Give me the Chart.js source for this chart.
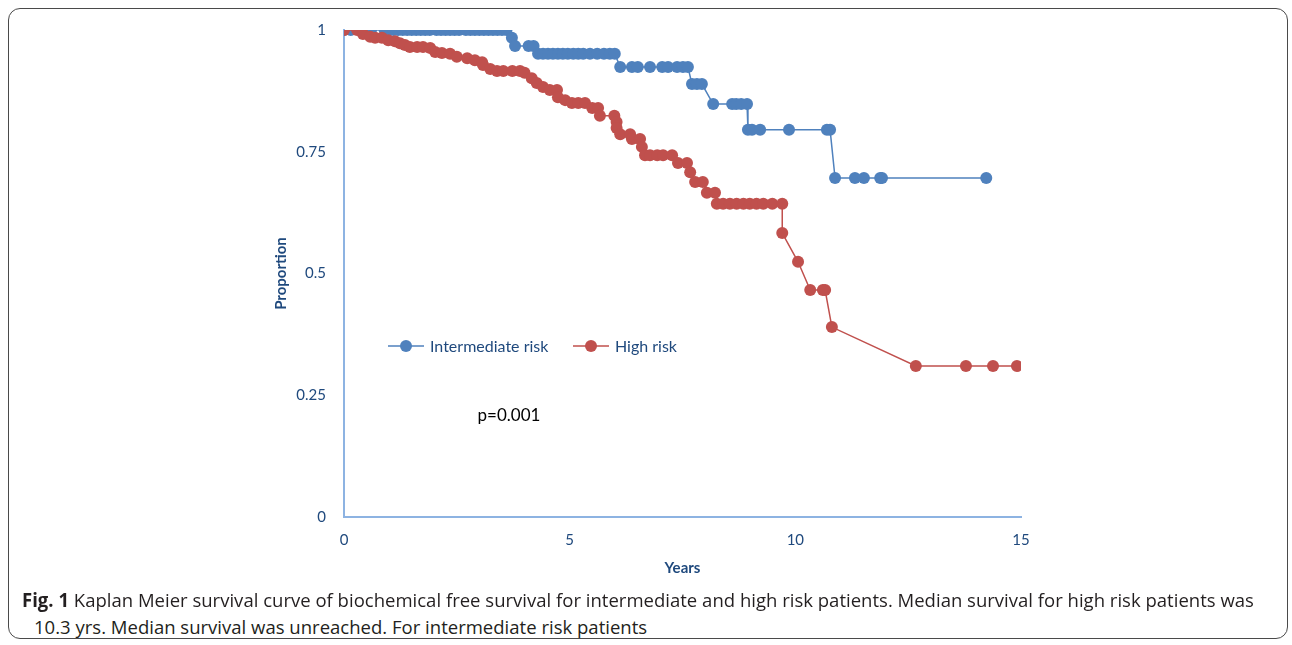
<!DOCTYPE html>
<html lang="en">
<head>
  <meta charset="UTF-8" />
  <title>Kaplan Meier survival curve</title>
  <script src="https://cdn.jsdelivr.net/npm/chart.js"></script>
  <style>
    html, body { margin: 0; padding: 0; background: #fff; }
    body { width: 1292px; height: 645px; position: relative; overflow: hidden; }
    #frame {
      position: absolute; left: 8px; top: 8px; width: 1280px; height: 631px;
      border: 1.5px solid #4a4a4a; border-radius: 12px; box-sizing: border-box;
    }
    #chartBox { position: absolute; left: 0; top: 0; width: 1292px; height: 600px; }
    .cap {
      position: absolute; left: 22px; white-space: nowrap;
      font-family: "Open Sans", sans-serif; font-size: 19px; line-height: 26px; color: #231f20;
      transform: scaleX(0.975); transform-origin: 0 0;
    }
  </style>
</head>
<body>
  <div id="frame"></div>
  <div id="chartBox"><canvas id="kmChart" width="1292" height="600"></canvas></div>
  <div class="cap" style="top:587px"><b>Fig. 1</b> Kaplan Meier survival curve of biochemical free survival for intermediate and high risk patients. Median survival for high risk patients was</div>
  <div class="cap" style="top:614px; left:34px">10.3 yrs. Median survival was unreached. For intermediate risk patients</div>

  <script>
    // values
    const seriesNames = ['Intermediate risk', 'High risk'];

    const intermediateYears = [
      0, 0.15, 0.5, 0.6, 0.9, 1.0, 1.1, 1.2, 1.3, 1.4, 1.5, 1.6, 1.7, 1.8, 1.9, 2.05, 2.15, 2.25, 2.35, 2.45,
      2.55, 2.7, 2.8, 2.9, 3.0, 3.1, 3.2, 3.3, 3.4, 3.5, 3.6,
      3.72, 3.79, 4.09, 4.2,
      4.3, 4.41, 4.52, 4.63, 4.74, 4.85, 4.96, 5.08, 5.19, 5.3, 5.45, 5.61, 5.76, 5.89, 6.0,
      6.12, 6.38, 6.51, 6.78, 7.05, 7.18, 7.38, 7.51, 7.62,
      7.71, 7.82, 7.93,
      8.18, 8.6, 8.69, 8.8, 8.93,
      8.95, 9.04, 9.22, 9.86, 10.7, 10.77,
      10.88, 11.32, 11.52, 11.88, 11.92, 14.23
    ];
    const intermediateSurvival = [
      1, 1, 1, 1, 1, 1, 1, 1, 1, 1, 1, 1, 1, 1, 1, 1, 1, 1, 1, 1,
      1, 1, 1, 1, 1, 1, 1, 1, 1, 1, 1,
      0.984, 0.967, 0.967, 0.967,
      0.951, 0.951, 0.951, 0.951, 0.951, 0.951, 0.951, 0.951, 0.951, 0.951, 0.951, 0.951, 0.951, 0.951, 0.951,
      0.924, 0.924, 0.924, 0.924, 0.924, 0.924, 0.924, 0.924, 0.924,
      0.889, 0.889, 0.889,
      0.848, 0.848, 0.848, 0.848, 0.848,
      0.795, 0.795, 0.795, 0.795, 0.795, 0.795,
      0.696, 0.696, 0.696, 0.696, 0.696, 0.696
    ];

    const highYears = [
      0, 0.29, 0.42, 0.58, 0.69, 0.84, 0.98, 1.13, 1.24, 1.35, 1.46, 1.62, 1.75, 1.91, 2.02, 2.17, 2.35, 2.5,
      2.73, 2.9, 3.06, 3.08, 3.24, 3.39, 3.53, 3.73, 3.9, 4.0, 4.16, 4.27, 4.41, 4.56, 4.72, 4.74, 4.9,
      5.05, 5.19, 5.34, 5.5, 5.63, 5.67, 5.99, 6.04, 6.04, 6.12, 6.34, 6.38, 6.56, 6.6, 6.67, 6.78, 6.94,
      7.07, 7.27, 7.4, 7.6, 7.67, 7.78, 7.95, 8.04, 8.22, 8.26, 8.4, 8.55, 8.7, 8.85, 8.99, 9.14, 9.29,
      9.49, 9.71, 9.71, 10.06, 10.33, 10.61, 10.66, 10.81, 12.67, 13.78, 14.38, 14.91
    ];
    const highSurvival = [
      1, 1, 0.992, 0.986, 0.984, 0.984, 0.979, 0.977, 0.973, 0.969, 0.965, 0.965, 0.965, 0.963, 0.955, 0.953, 0.951, 0.945,
      0.942, 0.938, 0.934, 0.928, 0.92, 0.916, 0.916, 0.916, 0.916, 0.912, 0.901, 0.891, 0.883, 0.877, 0.877, 0.862, 0.856,
      0.85, 0.85, 0.85, 0.84, 0.84, 0.824, 0.824, 0.811, 0.799, 0.786, 0.786, 0.776, 0.776, 0.76, 0.743, 0.743, 0.743,
      0.743, 0.743, 0.727, 0.727, 0.708, 0.688, 0.688, 0.666, 0.666, 0.643, 0.643, 0.643, 0.643, 0.643, 0.643, 0.643, 0.643,
      0.643, 0.643, 0.583, 0.524, 0.466, 0.466, 0.466, 0.39, 0.31, 0.31, 0.31, 0.31
    ];

    const xTickValues = [0, 5, 10, 15];
    const yTickValues = [0, 0.25, 0.5, 0.75, 1];
    const yTickLabels = ['0', '0.25', '0.5', '0.75', '1'];
    const pValueText = 'p=0.001';

    const BLUE = '#4f81bd';
    const RED = '#c0504d';
    const AXIS = '#8db3e2';
    const LABEL = '#1f497d';
    const FONT = 'Lato, "Open Sans", sans-serif';

    const pairs = (xs, ys) => xs.map((x, i) => ({ x, y: ys[i] }));

    // legend and p value sit inside the plot area
    const insideText = {
      id: 'insideText',
      afterDraw(chart) {
        const ctx = chart.ctx;
        const left = chart.chartArea.left;
        const items = [
          { name: seriesNames[0], color: BLUE, x0: left + 44 },
          { name: seriesNames[1], color: RED, x0: left + 229 }
        ];
        const y = 346;
        ctx.save();
        items.forEach(it => {
          ctx.strokeStyle = it.color;
          ctx.lineWidth = 1.5;
          ctx.beginPath();
          ctx.moveTo(it.x0, y);
          ctx.lineTo(it.x0 + 36, y);
          ctx.stroke();
          ctx.fillStyle = it.color;
          ctx.beginPath();
          ctx.arc(it.x0 + 18, y, 6, 0, Math.PI * 2);
          ctx.fill();
          ctx.fillStyle = LABEL;
          ctx.font = '16px ' + FONT;
          ctx.textAlign = 'left';
          ctx.textBaseline = 'middle';
          ctx.fillText(it.name, it.x0 + 42, y + 1);
        });
        ctx.fillStyle = '#000';
        ctx.font = '17px ' + FONT;
        ctx.textAlign = 'center';
        ctx.fillText(pValueText, left + 165, 416);
        ctx.restore();
      }
    };

    new Chart(document.getElementById('kmChart'), {
      type: 'line',
      data: {
        datasets: [
          {
            label: seriesNames[1],
            data: pairs(highYears, highSurvival),
            borderColor: RED, backgroundColor: RED,
            pointBackgroundColor: RED, pointBorderColor: RED,
            borderWidth: 1.5, pointRadius: 6, pointBorderWidth: 0,
            order: 0
          },
          {
            label: seriesNames[0],
            data: pairs(intermediateYears, intermediateSurvival),
            borderColor: BLUE, backgroundColor: BLUE,
            pointBackgroundColor: BLUE, pointBorderColor: BLUE,
            borderWidth: 1.5, pointRadius: 6, pointBorderWidth: 0,
            order: 1
          }
        ]
      },
      options: {
        responsive: false,
        animation: false,
        layout: { padding: { left: 265, right: 271, top: 30, bottom: 23 } },
        plugins: { legend: { display: false }, tooltip: { enabled: false } },
        scales: {
          x: {
            type: 'linear', min: 0, max: 15,
            afterBuildTicks: s => { s.ticks = xTickValues.map(v => ({ value: v })); },
            afterFit: s => { s.height = 60; },
            grid: { display: false, drawTicks: false },
            border: { display: true, color: AXIS, width: 2 },
            ticks: { padding: 14, color: LABEL, font: { family: FONT, size: 15 } },
            title: { display: true, text: 'Years', color: LABEL, padding: 0,
                     font: { family: FONT, size: 15, weight: 'bold' } }
          },
          y: {
            min: 0, max: 1,
            afterBuildTicks: s => { s.ticks = yTickValues.map(v => ({ value: v })); },
            afterFit: s => { s.width = 79; },
            grid: { display: false, drawTicks: false },
            border: { display: true, color: AXIS, width: 2 },
            ticks: { padding: 18, color: LABEL, font: { family: FONT, size: 15 },
                     callback: (v, i) => yTickLabels[i] },
            title: { display: true, text: 'Proportion', color: LABEL, padding: { top: 7, bottom: 0 },
                     font: { family: FONT, size: 15, weight: 'bold' } }
          }
        }
      },
      plugins: [insideText]
    });
  </script>
</body>
</html>
